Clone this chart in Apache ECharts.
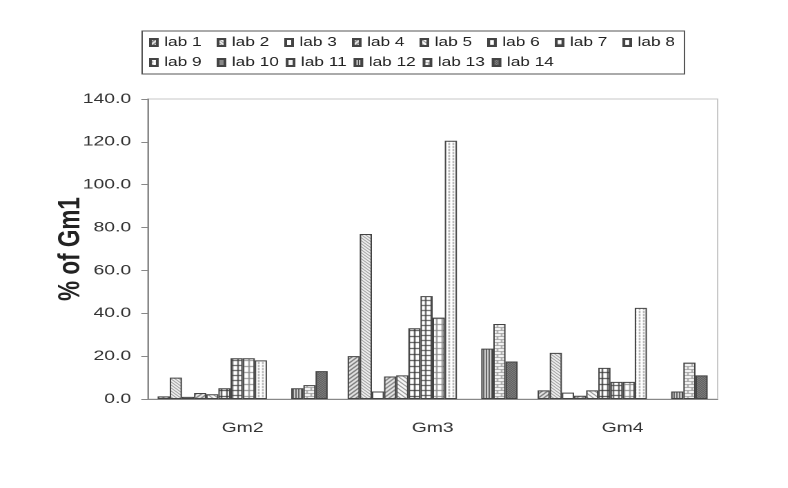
<!DOCTYPE html>
<html>
<head>
<meta charset="utf-8">
<script src="https://cdn.jsdelivr.net/npm/echarts@6/dist/echarts.min.js"></script>
<style>
html,body{margin:0;padding:0;background:#fff;}
#wrap{width:788px;height:488px;overflow:hidden;background:#fff;}
#chart{width:571px;height:488px;transform:scaleX(1.38);transform-origin:0 0;}
</style>
</head>
<body>
<div id="wrap"><div id="chart"></div></div>
<script>
// ---- data ----
var categories = ['Gm2', 'Gm3', 'Gm4'];
var seriesNames = ['lab 1','lab 2','lab 3','lab 4','lab 5','lab 6','lab 7','lab 8','lab 9','lab 10','lab 11','lab 12','lab 13','lab 14'];
var lab1  = [1.2, 20.0, 4.0];
var lab2  = [10.0, 77.0, 21.5];
var lab3  = [1.0, 3.5, 3.0];
var lab4  = [2.8, 10.5, 1.5];
var lab5  = [2.2, 11.0, 4.0];
var lab6  = [5.0, 33.0, 14.5];
var lab7  = [19.0, 48.0, 8.0];
var lab8  = [19.0, 38.0, 8.0];
var lab9  = [18.0, 120.5, 42.5];
var lab10 = [null, null, null];
var lab11 = [null, null, null];
var lab12 = [5.0, 23.5, 3.5];
var lab13 = [6.5, 35.0, 17.0];
var lab14 = [13.0, 17.5, 11.0];
var seriesValues = [lab1, lab2, lab3, lab4, lab5, lab6, lab7, lab8, lab9, lab10, lab11, lab12, lab13, lab14];
var yMin = 0, yMax = 140, yStep = 20;

// ---- patterns ----
function pat(w, h, bg, draw) {
  var c = document.createElement('canvas');
  c.width = w; c.height = h;
  var g = c.getContext('2d');
  g.fillStyle = bg; g.fillRect(0, 0, w, h);
  draw(g, w, h);
  return { image: c, repeat: 'repeat' };
}
function diag(dir, col, lw, sz) {
  return pat(sz, sz, '#fff', function (g, w, h) {
    g.strokeStyle = col; g.lineWidth = lw;
    g.beginPath();
    if (dir > 0) {
      g.moveTo(-1, h + 1); g.lineTo(w + 1, -1);
      g.moveTo(-1, 1); g.lineTo(1, -1);
      g.moveTo(w - 1, h + 1); g.lineTo(w + 1, h - 1);
    } else {
      g.moveTo(-1, -1); g.lineTo(w + 1, h + 1);
      g.moveTo(w - 1, -1); g.lineTo(w + 1, 1);
      g.moveTo(-1, h - 1); g.lineTo(1, h + 1);
    }
    g.stroke();
  });
}
function grid(w, h, col) {
  return pat(w, h, '#fff', function (g) {
    g.fillStyle = col;
    g.fillRect(0, 0, w, 1);
    g.fillRect(0, 0, 1, h);
  });
}
var colors = [
  diag(1, '#444', 1.1, 4),
  diag(-1, '#777', 1.0, 3),
  '#ffffff',
  diag(1, '#555', 1.1, 4),
  diag(-1, '#666', 1.0, 4),
  grid(4, 6, '#333'),
  grid(4, 5, '#444'),
  grid(4, 6, '#888'),
  pat(3, 3, '#fff', function (g) { g.fillStyle = '#999'; g.fillRect(1, 0, 1, 1); g.fillRect(1, 2, 1, 1); }),
  '#888888',
  '#f4f4f4',
  pat(2, 4, '#fff', function (g) { g.fillStyle = '#333'; g.fillRect(0, 0, 1, 4); }),
  pat(6, 6, '#fff', function (g) {
    g.fillStyle = '#999';
    g.fillRect(0, 0, 6, 1); g.fillRect(0, 3, 6, 1);
    g.fillRect(0, 0, 1, 3); g.fillRect(3, 3, 1, 3);
  }),
  pat(2, 2, '#999', function (g) { g.fillStyle = '#444'; g.fillRect(0, 0, 1, 1); g.fillRect(1, 1, 1, 1); })
];

var series = seriesNames.map(function (n, i) {
  return {
    name: n,
    type: 'bar',
    data: seriesValues[i],
    barGap: '0%',
    barCategoryGap: '10.5%',
    itemStyle: { color: colors[i], borderColor: '#444', borderWidth: 1 }
  };
});

var FONT = 'Liberation Sans, Arial, sans-serif';
var chart = echarts.init(document.getElementById('chart'), null, { renderer: 'canvas', devicePixelRatio: 2 });
chart.setOption({
  backgroundColor: '#fff',
  animation: false,
  textStyle: { fontFamily: FONT },
  legend: {
    data: seriesNames,
    left: 103, top: 31, width: 390,
    orient: 'horizontal',
    icon: 'rect',
    itemWidth: 5, itemHeight: 7, itemGap: 5,
    padding: [4, 1, 4, 5],
    borderColor: '#555', borderWidth: 1, backgroundColor: '#fff',
    formatter: function (name) { return '{t|' + name + '}'; },
    textStyle: {
      fontFamily: FONT, fontSize: 12.5, color: '#222', lineHeight: 15,
      rich: { t: { width: 33, fontFamily: FONT, fontSize: 12.5, color: '#222', lineHeight: 15 } }
    }
  },
  grid: { left: 107, right: 51, top: 99, bottom: 89, show: true, borderColor: '#c8c8c8', borderWidth: 1, backgroundColor: '#fff' },
  xAxis: {
    type: 'category',
    data: categories,
    axisLine: { lineStyle: { color: '#888' } },
    axisTick: { show: false },
    axisLabel: { fontFamily: FONT, fontSize: 14, color: '#333', margin: 22 }
  },
  yAxis: {
    type: 'value',
    min: yMin, max: yMax, interval: yStep,
    name: '% of Gm1',
    nameLocation: 'middle',
    nameRotate: 90,
    nameGap: 44,
    nameMoveOverlap: false,
    nameTextStyle: { fontFamily: FONT, fontSize: 22.5, fontWeight: 'bold', color: '#222' },
    axisLine: { show: true, lineStyle: { color: '#888' } },
    axisTick: { show: true, length: 4.6, lineStyle: { color: '#888' } },
    splitLine: { show: false },
    axisLabel: { fontFamily: FONT, fontSize: 14, color: '#333', margin: 12, formatter: function (v) { return v.toFixed(1); } }
  },
  series: series
});
</script>
</body>
</html>
